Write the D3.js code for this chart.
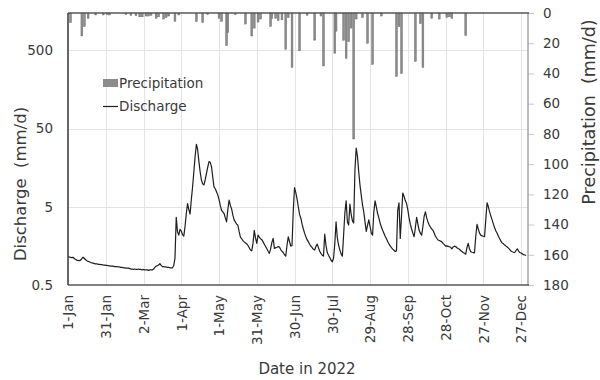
<!DOCTYPE html>
<html>
<head>
<meta charset="utf-8">
<script src="https://cdn.jsdelivr.net/npm/d3@7"></script>
<style>
  body { margin: 0; background: #fff; }
  svg { display: block; }
  text { font-family: "DejaVu Sans", Verdana, sans-serif; fill: #3a3a3a; }
</style>
</head>
<body>
<svg id="chart" width="600" height="380"></svg>
<script>
// Daily discharge (mm/d), day 0 = 1 Jan 2022
const discharge = [
  // Jan
  1.15, 1.14, 1.13, 1.12, 1.13, 1.09, 1.06, 1.04, 1.03, 1.02, 1.04, 1.09, 1.13, 1.09, 1.05, 1.02,
  1.00, 0.99, 0.97, 0.96, 0.95, 0.94, 0.93, 0.93, 0.92, 0.92, 0.91, 0.91, 0.90, 0.90, 0.89,
  // Feb
  0.89, 0.88, 0.88, 0.87, 0.87, 0.87, 0.86, 0.86, 0.86, 0.85, 0.85, 0.84, 0.84, 0.83, 0.83, 0.82,
  0.82, 0.82, 0.81, 0.80, 0.80, 0.79, 0.80, 0.79, 0.79, 0.80, 0.79, 0.79,
  // Mar
  0.78, 0.79, 0.78, 0.78, 0.78, 0.77, 0.78, 0.78, 0.78, 0.80, 0.84, 0.87, 0.88, 0.90, 0.94, 0.89,
  0.86, 0.86, 0.85, 0.85, 0.84, 0.84, 0.83, 0.83, 0.83, 0.88, 1.10, 3.66, 2.40, 2.17, 2.58,
  // Apr
  2.45, 2.20, 2.11, 2.80, 4.10, 5.50, 4.60, 4.04, 6.20, 9.00, 14.0, 22.0, 31.5, 27.0, 19.0,
  14.0, 11.0, 9.8, 9.5, 11.0, 13.3, 16.0, 18.9, 18.5, 16.3, 12.0, 9.0, 8.5, 7.8, 7.1,
  // May
  6.2, 5.2, 4.5, 4.3, 4.1, 3.6, 3.2, 4.6, 6.1, 5.2, 4.7, 3.9, 3.4, 3.2, 3.0, 2.9,
  2.4, 2.05, 1.95, 1.85, 1.78, 1.72, 1.68, 1.60, 1.50, 1.40, 1.37, 1.70, 2.50, 2.00, 1.70,
  // Jun
  2.17, 2.05, 1.95, 1.90, 1.78, 1.66, 1.55, 1.45, 1.35, 1.27, 1.45, 1.75, 1.97, 1.47, 1.50,
  1.52, 1.55, 1.53, 1.42, 1.35, 1.30, 1.22, 1.17, 1.60, 2.07, 1.80, 1.57, 1.60, 4.50, 8.80,
  // Jul
  7.60, 6.30, 5.00, 4.00, 3.57, 3.00, 2.60, 2.30, 2.07, 1.90, 1.78, 1.66, 1.57, 1.50, 1.43, 1.40,
  1.55, 1.67, 1.50, 1.35, 1.27, 1.20, 1.17, 2.23, 1.60, 1.30, 1.20, 1.12, 1.04, 0.99, 1.10,
  // Aug
  1.70, 3.20, 2.00, 1.62, 1.40, 1.25, 1.17, 2.20, 4.20, 5.95, 3.20, 2.92, 5.40, 4.00, 3.30, 3.10,
  15.0, 28.1, 22.0, 14.0, 9.5, 7.0, 5.3, 4.3, 3.2, 2.42, 2.90, 3.40, 2.80, 2.30, 2.17,
  // Sep
  4.30, 5.96, 5.00, 4.10, 3.60, 3.10, 2.75, 2.50, 2.30, 2.10, 1.95, 1.80, 1.68, 1.58, 1.50,
  1.44, 1.39, 1.34, 1.36, 4.50, 5.60, 1.97, 3.80, 7.50, 6.80, 6.00, 5.50, 4.60, 3.60, 3.00,
  // Oct
  2.60, 2.30, 2.07, 2.70, 3.67, 3.00, 2.50, 2.30, 2.17, 2.80, 3.80, 4.30, 3.60, 3.20, 2.92, 2.75,
  2.60, 2.50, 2.30, 2.10, 1.98, 1.88, 1.85, 1.82, 1.78, 1.70, 1.64, 1.57, 1.58, 1.56, 1.54,
  // Nov
  1.52, 1.45, 1.53, 1.57, 1.55, 1.50, 1.46, 1.43, 1.38, 1.34, 1.30, 1.27, 1.24, 1.50, 1.70,
  1.45, 1.33, 1.31, 1.30, 1.29, 2.10, 2.98, 2.60, 2.30, 2.17, 2.12, 2.10, 2.07, 3.50, 5.63,
  // Dec
  5.00, 4.30, 3.80, 3.40, 3.00, 2.70, 2.45, 2.29, 2.10, 1.95, 1.82, 1.72, 1.68, 1.62, 1.57, 1.53,
  1.48, 1.42, 1.36, 1.33, 1.31, 1.30, 1.38, 1.45, 1.36, 1.30, 1.28, 1.25, 1.22, 1.21, 1.19
];

// Rain days (day of year, 0 = 1 Jan) and daily precipitation (mm/d)
const rainDay = [2, 11, 13, 16, 22, 28, 31, 33, 46, 50, 54, 57, 59, 62, 64, 66, 70, 72, 76, 78,
  80, 85, 88, 102, 107, 111, 120, 122, 126, 127, 133, 141, 146, 148, 151, 153, 161, 162, 165, 167,
  170, 173, 175, 178, 184, 190, 196, 201, 203, 212, 213, 219, 221, 223, 225, 227, 229, 234, 238, 242,
  249, 261, 263, 265, 276, 280, 282, 289, 295, 301, 303, 305, 316];
const rainMm = [6.4, 15.2, 9.0, 3.5, 1.3, 1.3, 1.0, 1.3, 1.0, 1.5, 1.8, 2.5, 2.5, 2.0, 2.0, 1.5, 3.5, 2.5, 4.0, 3.0,
  2.0, 5.5, 1.3, 5.7, 6.4, 1.0, 3.5, 5.5, 21.6, 13.0, 1.0, 7.3, 15.2, 10.0, 6.0, 4.0, 8.9, 3.5, 3.5, 5.0,
  4.5, 24.0, 3.0, 36.0, 25.0, 1.5, 18.0, 2.0, 35.0, 26.7, 12.0, 18.0, 30.0, 19.0, 10.0, 83.4, 4.0, 3.0, 20.0, 34.0,
  2.0, 42.0, 9.0, 40.0, 32.0, 7.0, 36.0, 3.5, 4.0, 3.0, 2.5, 3.5, 15.0];

// Axis ticks
const xTickDays = [0, 30, 60, 90, 120, 150, 180, 210, 240, 270, 300, 330, 360];
const xTickLabels = ["1-Jan", "31-Jan", "2-Mar", "1-Apr", "1-May", "31-May", "30-Jun",
  "30-Jul", "29-Aug", "28-Sep", "28-Oct", "27-Nov", "27-Dec"];
const qTicks = [0.5, 5, 50, 500];
const pTicks = [0, 20, 40, 60, 80, 100, 120, 140, 160, 180];

const svg = d3.select("#chart");
const box = { left: 68, right: 528, top: 13, bottom: 285 };

const x = d3.scaleLinear().domain([0, 365.5]).range([box.left, box.right]);
const yQ = d3.scaleLog().domain([0.5, 1500]).range([box.bottom, box.top]);
const yP = d3.scaleLinear().domain([0, 180]).range([box.top, box.bottom]);

// Gridlines
const grid = svg.append("g").attr("stroke", "#e4e4e4").attr("stroke-width", 1);
grid.selectAll("line.v").data(xTickDays.slice(1)).join("line")
  .attr("x1", d => Math.round(x(d)) + 0.5).attr("x2", d => Math.round(x(d)) + 0.5)
  .attr("y1", box.top).attr("y2", box.bottom);
grid.selectAll("line.h").data(qTicks.slice(1)).join("line")
  .attr("x1", box.left).attr("x2", box.right)
  .attr("y1", d => Math.round(yQ(d)) + 0.5).attr("y2", d => Math.round(yQ(d)) + 0.5);

// Precipitation bars hanging from the top
const rain = rainDay.map((d, i) => ({ day: d, mm: rainMm[i] }));
svg.append("g").selectAll("rect").data(rain).join("rect")
  .attr("x", d => x(d.day) - 0.9)
  .attr("width", 1.8)
  .attr("y", yP(0))
  .attr("height", d => yP(d.mm) - yP(0))
  .attr("fill", "#8c8c8c")
  .attr("stroke", "#6f6f6f")
  .attr("stroke-width", 0.5);

// Discharge line
const line = d3.line().x((d, i) => x(i)).y(d => yQ(d));
svg.append("path").datum(discharge)
  .attr("d", line)
  .attr("fill", "none")
  .attr("stroke", "#1e1e1e")
  .attr("stroke-width", 1.2)
  .attr("stroke-linejoin", "round");

// Left axis (log discharge)
const axL = svg.append("g").attr("transform", `translate(${box.left},0)`)
  .call(d3.axisLeft(yQ).tickValues(qTicks).tickFormat(d => d).tickSize(0).tickPadding(15));
axL.select(".domain").remove();
axL.selectAll("text").attr("font-size", 13.5).style("font-family", "DejaVu Sans");

// Right axis (precipitation, reversed)
const axR = svg.append("g").attr("transform", `translate(${box.right},0)`)
  .call(d3.axisRight(yP).tickValues(pTicks).tickSize(6).tickPadding(9));
axR.select(".domain").remove();
axR.selectAll(".tick line").attr("stroke", "#c8c8c8");
axR.selectAll("text").attr("font-size", 13.5).style("font-family", "DejaVu Sans");

// Bottom axis with rotated date labels
const axB = svg.append("g").attr("transform", `translate(0,${box.bottom})`)
  .call(d3.axisBottom(x).tickValues(xTickDays).tickFormat((d, i) => xTickLabels[i]).tickSize(0));
axB.select(".domain").remove();
axB.selectAll("text")
  .attr("font-size", 13.5).style("font-family", "DejaVu Sans")
  .attr("transform", "rotate(-90)")
  .attr("x", -10).attr("y", 0).attr("dy", "0.36em")
  .attr("text-anchor", "end");

// Frame
svg.append("line").attr("x1", box.right).attr("x2", box.right).attr("y1", box.top).attr("y2", box.bottom)
  .attr("stroke", "#a6a6a6").attr("stroke-width", 1.5);
svg.append("line").attr("x1", box.left).attr("x2", box.right + 1).attr("y1", box.top).attr("y2", box.top)
  .attr("stroke", "#595959").attr("stroke-width", 1.6);
svg.append("line").attr("x1", box.left).attr("x2", box.right + 1).attr("y1", box.bottom).attr("y2", box.bottom)
  .attr("stroke", "#595959").attr("stroke-width", 1.6);
svg.append("line").attr("x1", box.left).attr("x2", box.left).attr("y1", box.top).attr("y2", box.bottom)
  .attr("stroke", "#404040").attr("stroke-width", 1.6);

// Axis titles
svg.append("text").attr("transform", "translate(20,184) rotate(-90)")
  .attr("text-anchor", "middle").attr("dy", "0.36em").attr("font-size", 16.5)
  .style("white-space", "pre")
  .text("Discharge  (mm/d)");
svg.append("text").attr("transform", "translate(589,112) rotate(-90)")
  .attr("text-anchor", "middle").attr("dy", "0.36em").attr("font-size", 17.5)
  .style("white-space", "pre")
  .text("Precipitation  (mm/d)");
svg.append("text").attr("x", 307).attr("y", 374)
  .attr("text-anchor", "middle").attr("font-size", 15)
  .text("Date in 2022");

// Legend
const lg = svg.append("g");
lg.append("rect").attr("x", 103).attr("y", 79).attr("width", 15).attr("height", 8).attr("fill", "#8c8c8c");
lg.append("text").attr("x", 119).attr("y", 88).attr("font-size", 13.5).text("Precipitation");
lg.append("line").attr("x1", 103).attr("x2", 118).attr("y1", 106.5).attr("y2", 106.5)
  .attr("stroke", "#1e1e1e").attr("stroke-width", 1.2);
lg.append("text").attr("x", 119).attr("y", 111).attr("font-size", 13.5).text("Discharge");
</script>
</body>
</html>
